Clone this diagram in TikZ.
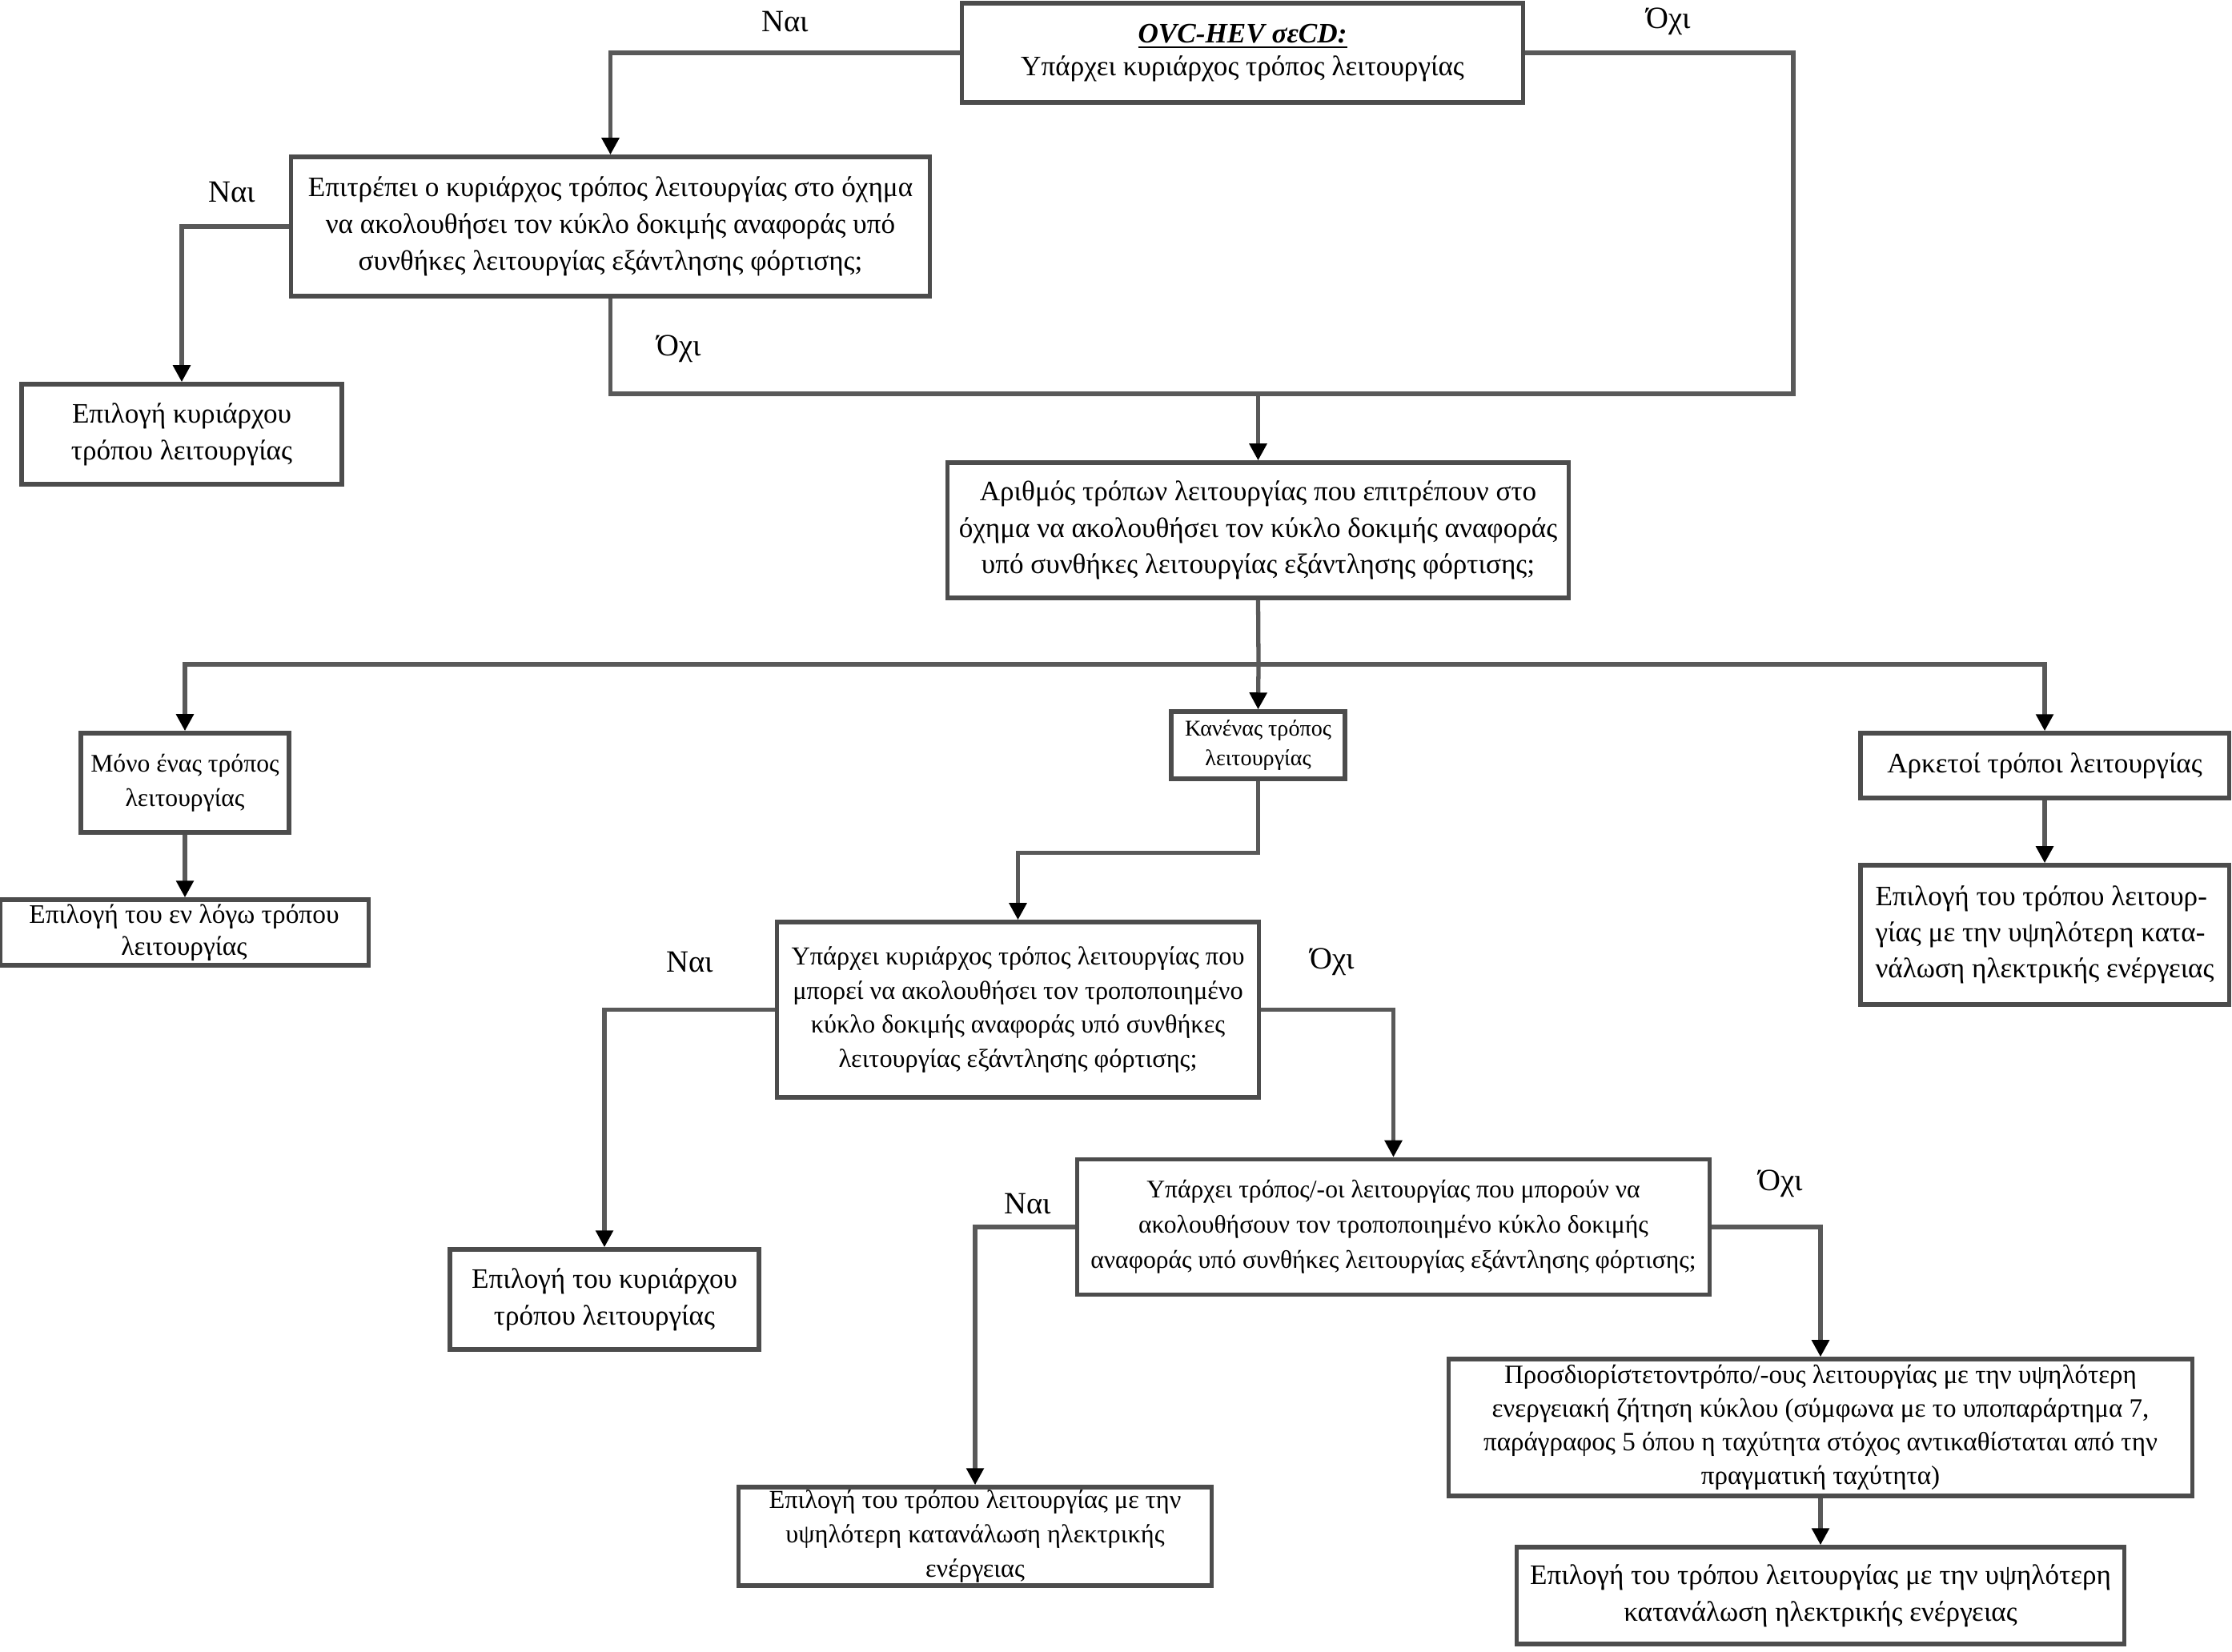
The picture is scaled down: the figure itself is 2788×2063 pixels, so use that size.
\documentclass[tikz,border=0pt]{standalone}
\usepackage{fontspec}
\setmainfont{Liberation Serif}
\usetikzlibrary{arrows.meta}

\begin{document}
\begin{tikzpicture}[x=0.01cm,y=-0.01cm,
    box/.style={draw=black!70,line width=1.5pt,fill=white,align=center,inner sep=1pt},
    line/.style={draw=black!65,line width=1.5pt},
    conn/.style={line,-{Triangle[black,width=6pt,length=6pt]}},
    lbl/.style={font=\fontsize{11}{13}\selectfont}]
        \useasboundingbox (0,0) rectangle (2788,2063);
        % questions
        \node[box,minimum width=7cm,minimum height=1.24cm,font=\fontsize{10}{11.6}\selectfont] (q1) at (1552,66)
            {\textbf{\textit{\underline{OVC-HEV σεCD:}}}\\Υπάρχει κυριάρχος τρόπος λειτουργίας};
        \node[box,minimum width=7.97cm,minimum height=1.74cm,font=\fontsize{10}{13}\selectfont] (q2) at (762.5,283)
            {Επιτρέπει ο κυριάρχος τρόπος λειτουργίας στο όχημα\\να ακολουθήσει τον κύκλο δοκιμής αναφοράς υπό\\συνθήκες λειτουργίας εξάντλησης φόρτισης;};
        \node[box,minimum width=7.75cm,minimum height=1.69cm,font=\fontsize{10}{13}\selectfont] (q3) at (1571.5,662.5)
            {Αριθμός τρόπων λειτουργίας που επιτρέπουν στο\\όχημα να ακολουθήσει τον κύκλο δοκιμής αναφοράς\\υπό συνθήκες λειτουργίας εξάντλησης φόρτισης;};
        \node[box,minimum width=6.01cm,minimum height=2.19cm,font=\fontsize{9.2}{12.2}\selectfont] (q4) at (1271.5,1261.5)
            {Υπάρχει κυριάρχος τρόπος λειτουργίας που\\μπορεί να ακολουθήσει τον τροποποιημένο\\κύκλο δοκιμής αναφοράς υπό συνθήκες\\λειτουργίας εξάντλησης φόρτισης;};
        \node[box,minimum width=7.89cm,minimum height=1.69cm,font=\fontsize{9}{12.5}\selectfont] (q5) at (1740.5,1533)
            {Υπάρχει τρόπος/-οι λειτουργίας που μπορούν να\\ακολουθήσουν τον τροποποιημένο κύκλο δοκιμής\\αναφοράς υπό συνθήκες λειτουργίας εξάντλησης φόρτισης;};
        \node[box,minimum width=9.28cm,minimum height=1.71cm,font=\fontsize{9.4}{11.9}\selectfont] (q6) at (2274,1783.5)
            {Προσδιορίστετοντρόπο/-ους λειτουργίας με την υψηλότερη\\ενεργειακή ζήτηση κύκλου (σύμφωνα με το υποπαράρτημα 7,\\παράγραφος 5 όπου η ταχύτητα στόχος αντικαθίσταται από την\\πραγματική ταχύτητα)};
        % outcomes
        \node[box,minimum width=2.6cm,minimum height=1.24cm,font=\fontsize{9}{12.2}\selectfont] (o1) at (231,978)
            {Μόνο ένας τρόπος\\λειτουργίας};
        \node[box,minimum width=2.17cm,minimum height=0.84cm,font=\fontsize{8}{10.5}\selectfont] (o2) at (1571.5,931)
            {Κανένας τρόπος\\λειτουργίας};
        \node[box,minimum width=4.6cm,minimum height=0.81cm,font=\fontsize{10}{12}\selectfont] (o3) at (2554,956.5)
            {Αρκετοί τρόποι λειτουργίας};
        % results
        \node[box,minimum width=4cm,minimum height=1.25cm,font=\fontsize{10}{13}\selectfont] (r1) at (227,542.5)
            {Επιλογή κυριάρχου\\τρόπου λειτουργίας};
        \node[box,minimum width=4.6cm,minimum height=0.82cm,font=\fontsize{9.5}{11.5}\selectfont] (r2) at (230,1165)
            {Επιλογή του εν λόγω τρόπου\\λειτουργίας};
        \node[box,minimum width=3.86cm,minimum height=1.25cm,font=\fontsize{10}{13}\selectfont] (r3) at (755,1623.5)
            {Επιλογή του κυριάρχου\\τρόπου λειτουργίας};
        \node[box,minimum width=5.9cm,minimum height=1.23cm,font=\fontsize{9.2}{12.2}\selectfont] (r4) at (1218,1919.5)
            {Επιλογή του τρόπου λειτουργίας με την\\υψηλότερη κατανάλωση ηλεκτρικής\\ενέργειας};
        \node[box,minimum width=7.58cm,minimum height=1.21cm,font=\fontsize{10}{13}\selectfont] (r5) at (2274,1993.5)
            {Επιλογή του τρόπου λειτουργίας με την υψηλότερη\\κατανάλωση ηλεκτρικής ενέργειας};
        \node[box,minimum width=4.6cm,minimum height=1.74cm,align=left,font=\fontsize{10}{12.8}\selectfont] (r6) at (2554,1168)
            {Επιλογή του τρόπου λειτουρ-\\γίας με την υψηλότερη κατα-\\νάλωση ηλεκτρικής ενέργειας};
        % yes / no labels
        \node[lbl] (yes1) at (981,27) {Ναι};
        \node[lbl] (no1) at (2084,27) {Όχι};
        \node[lbl] (yes2) at (290,240) {Ναι};
        \node[lbl] (no2) at (848,436) {Όχι};
        \node[lbl] (yes3) at (862,1202) {Ναι};
        \node[lbl] (no3) at (1664,1202) {Όχι};
        \node[lbl] (yes4) at (1284,1504) {Ναι};
        \node[lbl] (no4) at (2224,1479) {Όχι};
        % connectors
        \coordinate (mrg) at (2240,492);
        \coordinate (spl) at (1572,830);
        \draw[conn] (q1.west) -| (q2.north);
        \draw[line] (q1.east) -| (mrg) -| (q2.south);
        \draw[conn] (q3.north |- mrg) -- (q3.north);
        \draw[conn] (q2.west) -| (r1.north);
        \draw[line] (q3.south) -- (spl);
        \draw[conn] (spl) -| (o1.north);
        \draw[conn] (spl) -| (o3.north);
        \draw[conn] (spl) -- (o2.north);
        \draw[conn] (o1.south) -- (o1.south |- r2.north);
        \draw[conn] (o3.south) -- (r6.north);
        \draw[conn] (o2.south) -- ++(0,90) -| (q4.north);
        \draw[conn] (q4.west) -| (r3.north);
        \draw[conn] (q4.east) -| (q5.north);
        \draw[conn] (q5.west) -| (r4.north);
        \draw[conn] (q5.east) -| (q6.north);
        \draw[conn] (q6.south) -- (r5.north);
    \end{tikzpicture}
\end{document}
